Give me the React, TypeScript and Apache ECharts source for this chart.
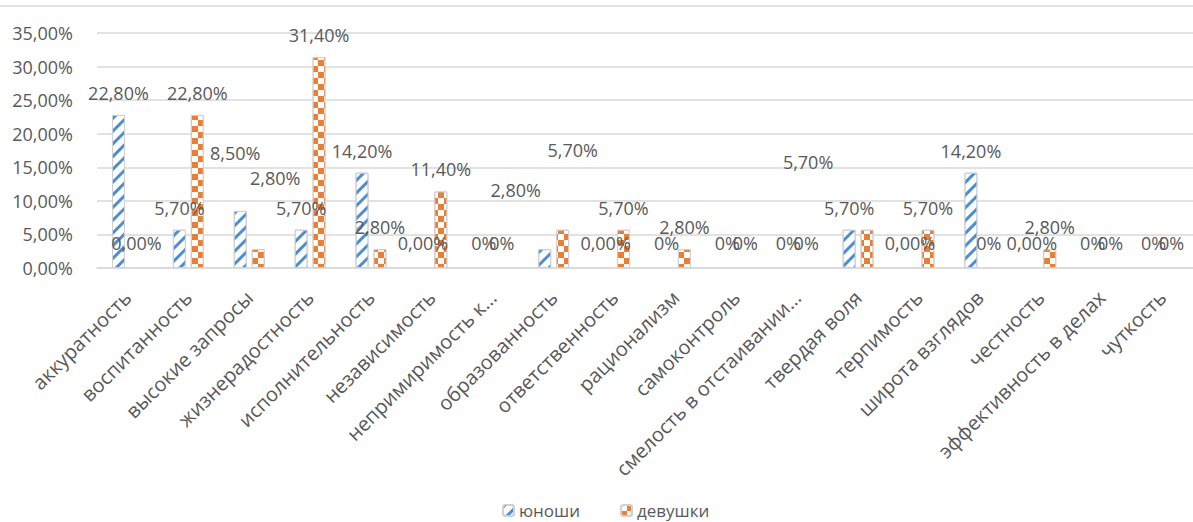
import React, { useEffect, useRef } from "react";
import * as echarts from "echarts";

const categories = [
  "аккуратность",
  "воспитанность",
  "высокие запросы",
  "жизнерадостность",
  "исполнительность",
  "независимость",
  "непримиримость к…",
  "образованность",
  "ответственность",
  "рационализм",
  "самоконтроль",
  "смелость в отстаивании…",
  "твердая воля",
  "терпимость",
  "широта взглядов",
  "честность",
  "эффективность в делах",
  "чуткость",
];

const seriesNames = ["юноши", "девушки"];

const boys = [22.8, 5.7, 8.5, 5.7, 14.2, 0, 0, 2.8, 0, 0, 0, 0, 5.7, 0, 14.2, 0, 0, 0];
const girls = [0, 22.8, 2.8, 31.4, 2.8, 11.4, 0, 5.7, 5.7, 2.8, 0, 0, 5.7, 5.7, 0, 2.8, 0, 0];

const boysLabels = [
  "22,80%", "5,70%", "8,50%", "5,70%", "14,20%", "0,00%", "0%", "2,80%", "0,00%",
  "0%", "0%", "0%", "5,70%", "0,00%", "14,20%", "0,00%", "0%", "0%",
];
const girlsLabels = [
  "0,00%", "22,80%", "2,80%", "31,40%", "2,80%", "11,40%", "0%", "5,70%", "5,70%",
  "2,80%", "0%", "0%", "5,70%", "5,70%", "0%", "2,80%", "0%", "0%",
];

const yTicks = { min: 0, max: 35, interval: 5 };

// label displacements (style only)
const boysLabelShift: Record<number, [number, number]> = { 2: [-5, -36], 7: [-29, -37] };
const girlsLabelShift: Record<number, [number, number]> = { 2: [17, -49], 7: [10, -58], 12: [-59, -46] };

const FONT = "Open Sans";
const TXT = "#595959";

export default function App() {
  const ref = useRef<HTMLDivElement>(null);
  useEffect(() => {
    if (!ref.current) return;
    const chart = echarts.init(ref.current, undefined, { renderer: "svg" });
    const mk = (vals: number[], labels: string[], shift: Record<number, [number, number]>) =>
      vals.map((v, i) => ({
        value: v,
        itemStyle: v === 0 ? { borderWidth: 0 } : undefined,
        label: {
          formatter: labels[i],
          offset: shift[i] || [0, 0],
          distance: v === 0 ? 16 : 13,
        },
      }));
    const labelStyle = {
      show: true,
      position: "top",
      color: TXT,
      fontSize: 18,
      fontFamily: FONT,
    };
    chart.setOption({
      animation: false,
      backgroundColor: "#ffffff",
      textStyle: { fontFamily: FONT },
      graphic: [
        {
          type: "line",
          shape: { x1: 0, y1: 6, x2: 1193, y2: 6 },
          style: { stroke: "#d9d9d9", lineWidth: 1.5 },
        },
      ],
      grid: { left: 97, right: -2, top: 33, bottom: 254, containLabel: false },
      legend: {
        data: seriesNames,
        left: 497,
        top: 497,
        itemWidth: 11,
        itemHeight: 11,
        itemGap: 40,
        textStyle: { color: TXT, fontSize: 17, fontFamily: FONT },
      },
      xAxis: {
        type: "category",
        data: categories,
        axisLine: { lineStyle: { color: "#d9d9d9", width: 1.5 } },
        axisTick: { show: false },
        axisLabel: {
          interval: 0,
          rotate: 45,
          margin: 26,
          color: TXT,
          fontSize: 20,
          fontFamily: FONT,
        },
      },
      yAxis: {
        type: "value",
        min: yTicks.min,
        max: yTicks.max,
        interval: yTicks.interval,
        axisLine: { show: false },
        axisTick: { show: false },
        splitLine: { lineStyle: { color: "#d9d9d9", width: 1.5 } },
        axisLabel: {
          margin: 24,
          color: TXT,
          fontSize: 18,
          fontFamily: FONT,
          formatter: (v: number) => v.toFixed(2).replace(".", ",") + "%",
        },
      },
      series: [
        {
          name: seriesNames[0],
          type: "bar",
          barWidth: 13,
          barGap: "38%",
          data: mk(boys, boysLabels, boysLabelShift),
          itemStyle: {
            color: "#ffffff",
            borderColor: "#d0d0d0",
            borderWidth: 1,
            decal: {
              symbol: "rect",
              symbolSize: 1,
              dashArrayX: [1, 0],
              dashArrayY: [3, 6],
              rotation: -Math.PI / 4,
              color: "#4A8FD6",
            },
          },
          label: labelStyle,
        },
        {
          name: seriesNames[1],
          type: "bar",
          barWidth: 13,
          data: mk(girls, girlsLabels, girlsLabelShift),
          itemStyle: {
            color: "#ffffff",
            borderColor: "#d0d0d0",
            borderWidth: 1,
            decal: {
              symbol: "rect",
              symbolSize: 1,
              dashArrayX: [[6, 6], [0, 6, 6, 0]],
              dashArrayY: [6, 0],
              color: "#ED7D31",
            },
          },
          label: labelStyle,
        },
      ],
    });
    return () => chart.dispose();
  }, []);
  return (
    <div
      ref={ref}
      style={{ position: "fixed", left: 0, top: 0, width: 1193, height: 522, background: "#fff" }}
    />
  );
}
